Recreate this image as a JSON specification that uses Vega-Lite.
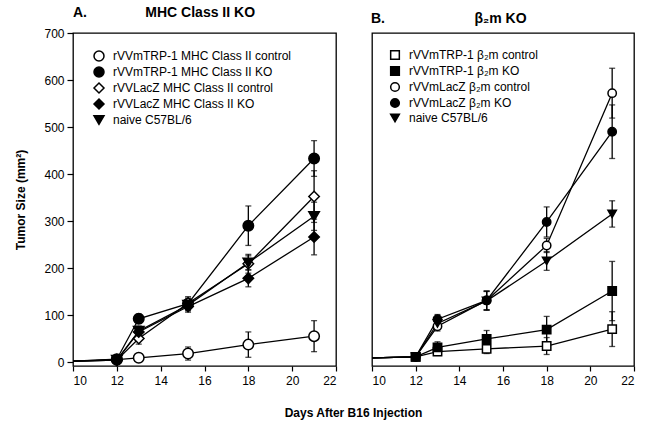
{
  "$schema": "https://vega.github.io/schema/vega-lite/v6.json",
  "padding": {"left": 14, "top": 5, "right": 10, "bottom": 5},
  "background": "white",
  "spacing": 36,
  "bounds": "flush",
  "datasets": {
    "a": [
      {"series": "rVVmTRP-1 MHC Class II control", "day": 10, "value": 2, "err": 0},
      {"series": "rVVmTRP-1 MHC Class II control", "day": 12, "value": 5, "err": 4},
      {"series": "rVVmTRP-1 MHC Class II control", "day": 13, "value": 9, "err": 6},
      {"series": "rVVmTRP-1 MHC Class II control", "day": 15.25, "value": 18, "err": 14},
      {"series": "rVVmTRP-1 MHC Class II control", "day": 18, "value": 37, "err": 27},
      {"series": "rVVmTRP-1 MHC Class II control", "day": 21, "value": 55, "err": 33},
      {"series": "rVVmTRP-1 MHC Class II KO", "day": 10, "value": 2, "err": 0},
      {"series": "rVVmTRP-1 MHC Class II KO", "day": 12, "value": 6, "err": 5},
      {"series": "rVVmTRP-1 MHC Class II KO", "day": 13, "value": 92, "err": 10},
      {"series": "rVVmTRP-1 MHC Class II KO", "day": 15.25, "value": 124, "err": 12},
      {"series": "rVVmTRP-1 MHC Class II KO", "day": 18, "value": 290, "err": 42},
      {"series": "rVVmTRP-1 MHC Class II KO", "day": 21, "value": 433, "err": 38},
      {"series": "rVVLacZ MHC Class II control", "day": 10, "value": 2, "err": 0},
      {"series": "rVVLacZ MHC Class II control", "day": 12, "value": 4, "err": 4},
      {"series": "rVVLacZ MHC Class II control", "day": 13, "value": 50, "err": 12},
      {"series": "rVVLacZ MHC Class II control", "day": 15.25, "value": 125, "err": 14},
      {"series": "rVVLacZ MHC Class II control", "day": 18, "value": 209, "err": 20},
      {"series": "rVVLacZ MHC Class II control", "day": 21, "value": 352, "err": 55},
      {"series": "rVVLacZ MHC Class II KO", "day": 10, "value": 2, "err": 0},
      {"series": "rVVLacZ MHC Class II KO", "day": 12, "value": 4, "err": 4},
      {"series": "rVVLacZ MHC Class II KO", "day": 13, "value": 64, "err": 12},
      {"series": "rVVLacZ MHC Class II KO", "day": 15.25, "value": 118, "err": 12},
      {"series": "rVVLacZ MHC Class II KO", "day": 18, "value": 178, "err": 18},
      {"series": "rVVLacZ MHC Class II KO", "day": 21, "value": 266, "err": 38},
      {"series": "naive C57BL/6", "day": 10, "value": 2, "err": 0},
      {"series": "naive C57BL/6", "day": 12, "value": 4, "err": 4},
      {"series": "naive C57BL/6", "day": 13, "value": 66, "err": 10},
      {"series": "naive C57BL/6", "day": 15.25, "value": 121, "err": 12},
      {"series": "naive C57BL/6", "day": 18, "value": 211, "err": 15},
      {"series": "naive C57BL/6", "day": 21, "value": 310, "err": 30}
    ],
    "b": [
      {"series": "rVVmTRP-1 β₂m control", "day": 10, "value": 9, "err": 0},
      {"series": "rVVmTRP-1 β₂m control", "day": 12, "value": 11, "err": 5},
      {"series": "rVVmTRP-1 β₂m control", "day": 13, "value": 22, "err": 8},
      {"series": "rVVmTRP-1 β₂m control", "day": 15.25, "value": 28, "err": 10},
      {"series": "rVVmTRP-1 β₂m control", "day": 18, "value": 34, "err": 18},
      {"series": "rVVmTRP-1 β₂m control", "day": 21, "value": 70, "err": 37},
      {"series": "rVVmTRP-1 β₂m KO", "day": 10, "value": 9, "err": 0},
      {"series": "rVVmTRP-1 β₂m KO", "day": 12, "value": 11, "err": 5},
      {"series": "rVVmTRP-1 β₂m KO", "day": 13, "value": 31, "err": 12},
      {"series": "rVVmTRP-1 β₂m KO", "day": 15.25, "value": 49, "err": 18},
      {"series": "rVVmTRP-1 β₂m KO", "day": 18, "value": 69, "err": 28},
      {"series": "rVVmTRP-1 β₂m KO", "day": 21, "value": 151, "err": 63},
      {"series": "rVVmLacZ β₂m control", "day": 10, "value": 9, "err": 0},
      {"series": "rVVmLacZ β₂m control", "day": 12, "value": 11, "err": 5},
      {"series": "rVVmLacZ β₂m control", "day": 13, "value": 76, "err": 10},
      {"series": "rVVmLacZ β₂m control", "day": 15.25, "value": 131, "err": 20},
      {"series": "rVVmLacZ β₂m control", "day": 18, "value": 248, "err": 15},
      {"series": "rVVmLacZ β₂m control", "day": 21, "value": 572, "err": 53},
      {"series": "rVVmLacZ β₂m KO", "day": 10, "value": 9, "err": 0},
      {"series": "rVVmLacZ β₂m KO", "day": 12, "value": 11, "err": 5},
      {"series": "rVVmLacZ β₂m KO", "day": 13, "value": 91, "err": 10},
      {"series": "rVVmLacZ β₂m KO", "day": 15.25, "value": 131, "err": 20},
      {"series": "rVVmLacZ β₂m KO", "day": 18, "value": 298, "err": 32},
      {"series": "rVVmLacZ β₂m KO", "day": 21, "value": 490, "err": 57},
      {"series": "naive C57BL/6", "day": 10, "value": 9, "err": 0},
      {"series": "naive C57BL/6", "day": 12, "value": 11, "err": 5},
      {"series": "naive C57BL/6", "day": 13, "value": 82, "err": 10},
      {"series": "naive C57BL/6", "day": 15.25, "value": 130, "err": 20},
      {"series": "naive C57BL/6", "day": 18, "value": 215, "err": 20},
      {"series": "naive C57BL/6", "day": 21, "value": 315, "err": 28}
    ]
  },
  "hconcat": [
    {
      "width": 263,
      "height": 333,
      "data": {"name": "a"},
      "title": {"text": "A.\u00a0\u00a0\u00a0\u00a0\u00a0\u00a0\u00a0\u00a0\u00a0\u00a0\u00a0\u00a0\u00a0\u00a0\u00a0MHC Class II KO", "anchor": "start", "frame": "group", "fontSize": 14, "fontWeight": "bold", "font": "Liberation Sans", "color": "black", "offset": 7},
      "encoding": {
        "x": {"field": "day", "type": "quantitative", "scale": {"domain": [10, 22], "nice": false, "zero": false},
              "axis": {"values": [10, 12, 14, 16, 18, 20, 22], "title": "Days After B16 Injection", "titleX": 280, "titleY": 50, "titleBaseline": "alphabetic", "titleAlign": "center", "labelPadding": 4}},
        "y": {"field": "value", "type": "quantitative", "scale": {"domain": [-8.5, 700], "nice": false, "zero": false},
              "axis": {"values": [0, 100, 200, 300, 400, 500, 600, 700], "title": "Tumor Size (mm²)", "titlePadding": 16, "tickSize": 6, "labelPadding": 3}}
      },
      "layer": [
        {
          "transform": [{"filter": "datum.err > 0"}],
          "mark": {"type": "errorbar", "color": "black", "thickness": 1.3, "ticks": {"size": 6, "color": "black"}},
          "encoding": {"yError": {"field": "err"}}
        },
        {
          "mark": {"type": "line", "color": "black", "strokeWidth": 1.3},
          "encoding": {"detail": {"field": "series"}}
        },
        {
          "transform": [{"filter": "datum.day >= 12"}],
          "mark": {"type": "point", "filled": false, "strokeWidth": 1.5, "opacity": 1, "size": 110},
          "encoding": {
            "shape": {"field": "series", "type": "nominal", "title": null,
                      "scale": {"domain": ["rVVmTRP-1 MHC Class II control", "rVVmTRP-1 MHC Class II KO", "rVVLacZ MHC Class II control", "rVVLacZ MHC Class II KO", "naive C57BL/6"],
                                "range": ["circle", "circle", "diamond", "diamond", "triangle-down"]},
                      "legend": {"orient": "none", "legendX": 20, "legendY": 17, "labelLimit": 400}},
            "fill": {"field": "series", "type": "nominal", "title": null,
                     "scale": {"domain": ["rVVmTRP-1 MHC Class II control", "rVVmTRP-1 MHC Class II KO", "rVVLacZ MHC Class II control", "rVVLacZ MHC Class II KO", "naive C57BL/6"],
                               "range": ["white", "black", "white", "black", "black"]},
                     "legend": {"orient": "none", "legendX": 20, "legendY": 17, "labelLimit": 400}},
            "stroke": {"field": "series", "type": "nominal", "title": null,
                     "scale": {"domain": ["rVVmTRP-1 MHC Class II control", "rVVmTRP-1 MHC Class II KO", "rVVLacZ MHC Class II control", "rVVLacZ MHC Class II KO", "naive C57BL/6"],
                               "range": ["black", "black", "black", "black", "black"]},
                     "legend": {"orient": "none", "legendX": 20, "legendY": 17, "labelLimit": 400}}
          }
        }
      ]
    },
    {
      "width": 262,
      "height": 333,
      "data": {"name": "b"},
      "title": {"text": "B.\u00a0\u00a0\u00a0\u00a0\u00a0\u00a0\u00a0\u00a0\u00a0\u00a0\u00a0\u00a0\u00a0\u00a0\u00a0\u00a0\u00a0\u00a0\u00a0\u00a0\u00a0\u00a0\u00a0β₂m KO", "anchor": "start", "frame": "group", "fontSize": 14, "fontWeight": "bold", "font": "Liberation Sans", "color": "black", "offset": 7, "dx": -1},
      "encoding": {
        "x": {"field": "day", "type": "quantitative", "scale": {"domain": [10, 22], "nice": false, "zero": false},
              "axis": {"values": [10, 12, 14, 16, 18, 20, 22], "title": null, "labelPadding": 4}},
        "y": {"field": "value", "type": "quantitative", "scale": {"domain": [-8.5, 700], "nice": false, "zero": false}, "axis": null}
      },
      "layer": [
        {
          "transform": [{"filter": "datum.err > 0"}],
          "mark": {"type": "errorbar", "color": "black", "thickness": 1.3, "ticks": {"size": 6, "color": "black"}},
          "encoding": {"yError": {"field": "err"}}
        },
        {
          "mark": {"type": "line", "color": "black", "strokeWidth": 1.3},
          "encoding": {"detail": {"field": "series"}}
        },
        {
          "transform": [{"filter": "datum.day >= 12"}],
          "mark": {"type": "point", "filled": false, "strokeWidth": 1.5, "opacity": 1, "size": 70},
          "encoding": {
            "shape": {"field": "series", "type": "nominal", "title": null,
                      "scale": {"domain": ["rVVmTRP-1 β₂m control", "rVVmTRP-1 β₂m KO", "rVVmLacZ β₂m control", "rVVmLacZ β₂m KO", "naive C57BL/6"],
                                "range": ["square", "square", "circle", "circle", "triangle-down"]},
                      "legend": {"orient": "none", "legendX": 17, "legendY": 16, "labelLimit": 400, "symbolSize": 75}},
            "fill": {"field": "series", "type": "nominal", "title": null,
                     "scale": {"domain": ["rVVmTRP-1 β₂m control", "rVVmTRP-1 β₂m KO", "rVVmLacZ β₂m control", "rVVmLacZ β₂m KO", "naive C57BL/6"],
                               "range": ["white", "black", "white", "black", "black"]},
                     "legend": {"orient": "none", "legendX": 17, "legendY": 16, "labelLimit": 400, "symbolSize": 75}},
            "stroke": {"field": "series", "type": "nominal", "title": null,
                     "scale": {"domain": ["rVVmTRP-1 β₂m control", "rVVmTRP-1 β₂m KO", "rVVmLacZ β₂m control", "rVVmLacZ β₂m KO", "naive C57BL/6"],
                               "range": ["black", "black", "black", "black", "black"]},
                     "legend": {"orient": "none", "legendX": 17, "legendY": 16, "labelLimit": 400, "symbolSize": 75}}
          }
        }
      ]
    }
  ],
  "resolve": {
    "scale": {"shape": "independent", "fill": "independent", "stroke": "independent"},
    "legend": {"shape": "independent", "fill": "independent", "stroke": "independent"}
  },
  "config": {
    "font": "Liberation Sans",
    "view": {"stroke": "black", "strokeWidth": 1.3},
    "axis": {"labelFont": "Liberation Sans", "labelFontSize": 12, "labelColor": "black", "tickColor": "black", "tickSize": 5, "tickWidth": 1.2, "domain": false, "grid": false, "titleFont": "Liberation Sans", "titleFontSize": 12, "titleFontWeight": "bold", "titleColor": "black"},
    "legend": {"labelFont": "Liberation Sans", "labelFontSize": 12, "labelColor": "black", "symbolStrokeColor": "black", "symbolStrokeWidth": 1.5, "rowPadding": 0, "labelOffset": 8, "padding": 0, "symbolSize": 100, "labelLimit": 400}
  }
}
